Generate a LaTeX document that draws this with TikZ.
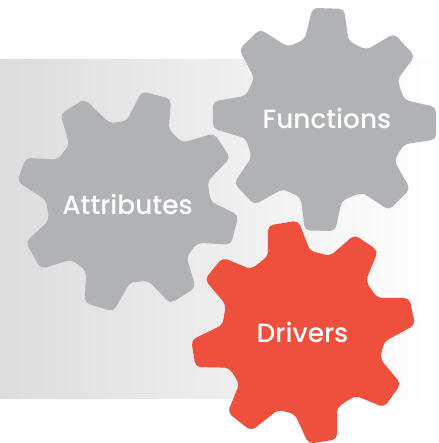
\documentclass[tikz,border=0pt]{standalone}
\usepackage{fontspec}
\setmainfont{Poppins Medium}
\definecolor{geargrey}{HTML}{B1B2B5}
\definecolor{gearred}{HTML}{EF4F3D}
\definecolor{panelleft}{HTML}{DCDCDD}
\definecolor{panelmid}{HTML}{F2F2F2}
\tikzset{
  gearshape/.style={draw=none,rounded corners=5pt},
  gearlabel/.style={text=white,font=\fontsize{26.4}{30}\selectfont,inner sep=0pt,anchor=center},
}
\begin{document}
\begin{tikzpicture}[x=1pt,y=-1pt]
\useasboundingbox (0,0) rectangle (438,443);
\shade[left color=panelleft,middle color=panelmid,right color=white] (0,60) rectangle (438,398);
% Attributes gear
\begin{scope}[x=0.33333pt,y=-0.33333pt,shift={(385,605)},scale=1.01,shift={(-385,-425)}]
\fill[geargrey,gearshape] (330,192) -- (380,185) -- (425,97) -- (512,120) -- (505,210) -- (545,250) -- (640,222) -- (688,295) -- (620,365) -- (630,425) -- (712,465) -- (690,553) -- (590,547) -- (558,590) -- (585,680) -- (510,728) -- (445,660) -- (390,665) -- (340,752) -- (255,725) -- (260,630) -- (215,597) -- (125,625) -- (80,545) -- (150,480) -- (140,420) -- (55,365) -- (80,295) -- (175,300) -- (210,255) -- (183,165) -- (255,120) -- cycle;
\end{scope}
% Functions gear
\begin{scope}[x=0.33333pt,y=-0.33333pt,shift={(975,360)},scale=1.01,shift={(-375,-360)}]
\fill[geargrey,gearshape] (315,120) -- (338,27) -- (432,30) -- (445,125) -- (498,152) -- (580,103) -- (642,170) -- (590,240) -- (610,300) -- (705,322) -- (705,418) -- (610,432) -- (580,480) -- (628,565) -- (565,628) -- (485,575) -- (425,600) -- (405,690) -- (315,688) -- (303,590) -- (250,565) -- (165,612) -- (105,548) -- (157,470) -- (140,415) -- (42,385) -- (42,305) -- (140,288) -- (165,235) -- (120,150) -- (182,90) -- (265,143) -- cycle;
\end{scope}
% Drivers gear
\begin{scope}[x=0.33333pt,y=-0.33333pt,shift={(910,995)},scale=1.01,shift={(-370,-365)}]
\fill[gearred,gearshape] (265,140) -- (265,50) -- (355,35) -- (390,125) -- (450,140) -- (522,77) -- (592,125) -- (555,215) -- (590,265) -- (685,265) -- (702,345) -- (610,395) -- (598,445) -- (660,520) -- (610,590) -- (525,555) -- (470,590) -- (470,685) -- (385,698) -- (345,610) -- (295,597) -- (215,660) -- (145,605) -- (180,520) -- (150,472) -- (50,470) -- (37,390) -- (130,345) -- (140,285) -- (77,210) -- (130,145) -- (215,180) -- cycle;
\end{scope}
\node[gearlabel] (attributes) at (127.5,204) {Attributes};
\node[gearlabel] (functions) at (327,118) {Functions};
\node[gearlabel] (drivers) at (302.5,332) {Drivers};
\end{tikzpicture}
\end{document}
